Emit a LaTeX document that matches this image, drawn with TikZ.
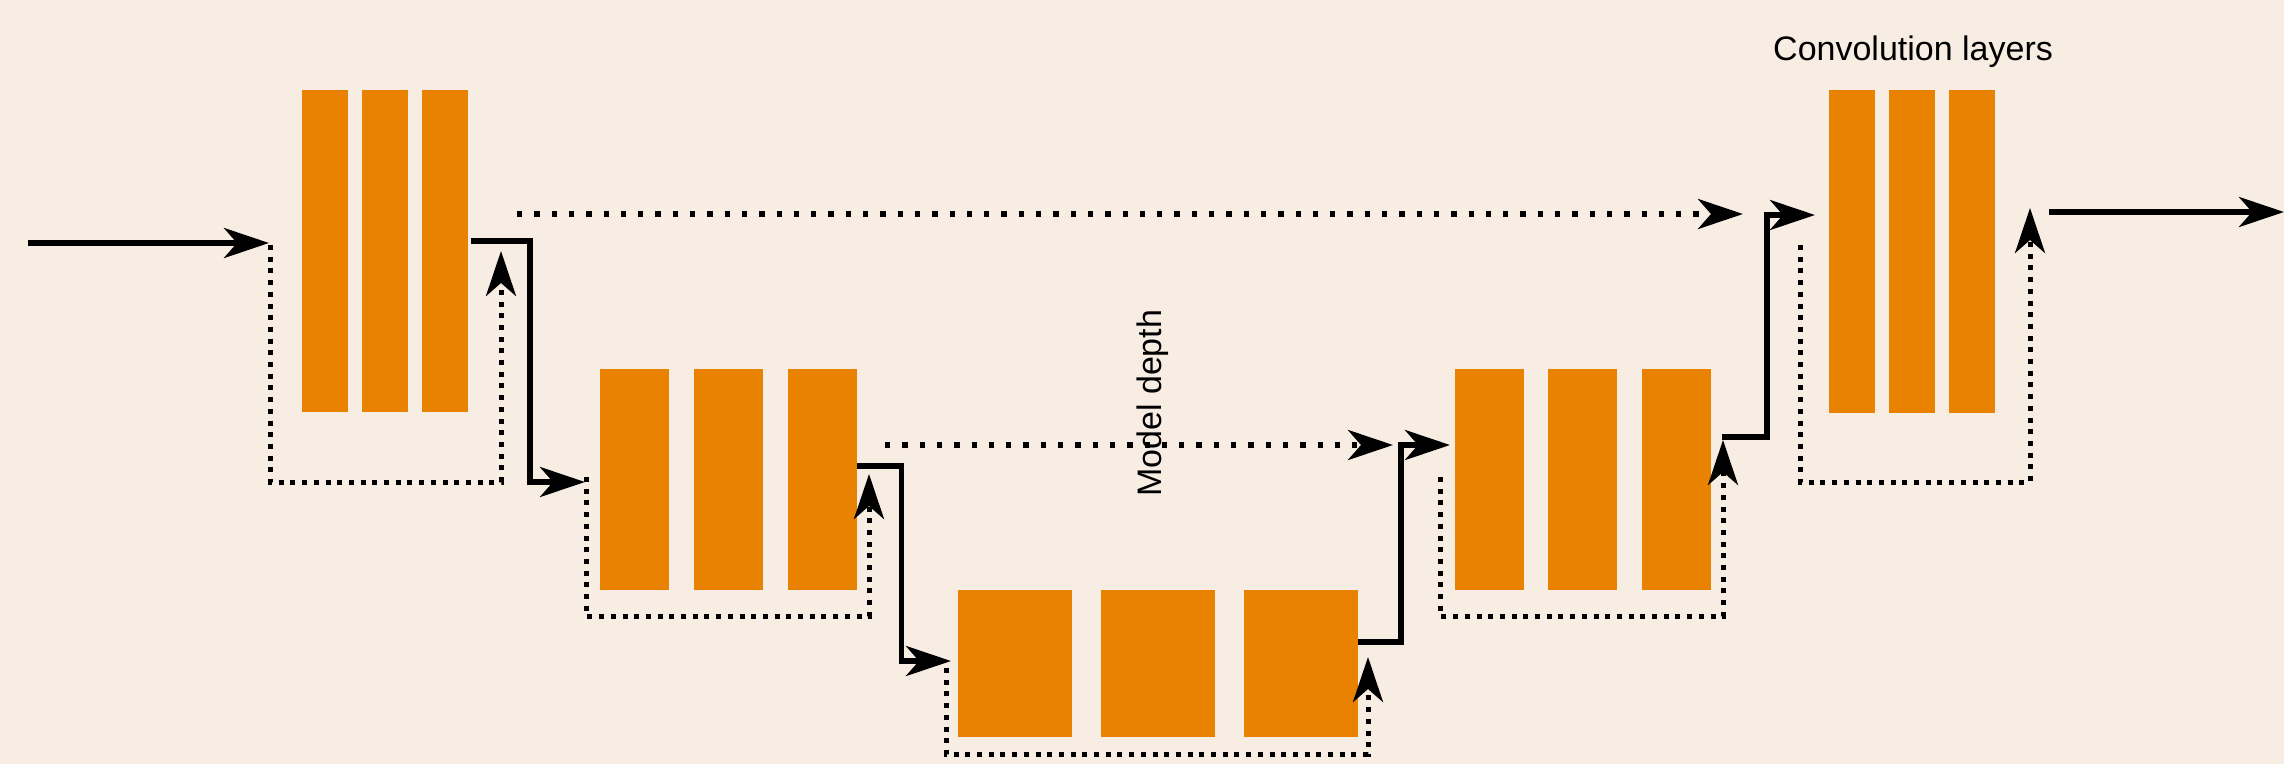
\documentclass[tikz,border=0pt]{standalone}
\usepackage{fontspec}
\setmainfont{Liberation Sans}
\usetikzlibrary{arrows.meta}
\definecolor{bgbeige}{RGB}{247,237,227}
\definecolor{barorange}{RGB}{232,130,0}
\tikzset{
  bar/.style 2 args={fill=barorange, draw=none, inner sep=0pt, outer sep=0pt, anchor=north west, minimum width=#1pt, minimum height=#2pt},
  conn/.style={line width=5.5pt, -{Stealth[length=45pt, width=30pt, inset=13pt]}},
  loopconn/.style={conn, line width=5pt, dash pattern=on 5pt off 6.7pt},
  skipconn/.style={conn, line width=5.3pt, dash pattern=on 5.3pt off 12pt},
  lbl/.style={font=\fontsize{34}{40}\selectfont, inner sep=0pt},
}
\begin{document}
\begin{tikzpicture}[x=1pt, y=-1pt]
\useasboundingbox (0,0) rectangle (2284,764);
\fill[bgbeige] (0,0) rectangle (2284,764);

% block 1
\node[bar={46}{322}] (b1a) at (302,90) {};
\node[bar={46}{322}] (b1b) at (362,90) {};
\node[bar={46}{322}] (b1c) at (422,90) {};
% block 2
\node[bar={69}{221}] (b2a) at (600,369) {};
\node[bar={69}{221}] (b2b) at (694,369) {};
\node[bar={69}{221}] (b2c) at (788,369) {};
% block 3
\node[bar={114}{147}] (b3a) at (958,590) {};
\node[bar={114}{147}] (b3b) at (1101,590) {};
\node[bar={114}{147}] (b3c) at (1244,590) {};
% block 4
\node[bar={69}{221}] (b4a) at (1455,369) {};
\node[bar={69}{221}] (b4b) at (1548,369) {};
\node[bar={69}{221}] (b4c) at (1642,369) {};
% block 5
\node[bar={46}{323}] (b5a) at (1829,90) {};
\node[bar={46}{323}] (b5b) at (1889,90) {};
\node[bar={46}{323}] (b5c) at (1949,90) {};

% labels
\node[lbl, anchor=base west] (conv) at (1773,60) {Convolution layers};
\node[lbl, anchor=base west, rotate=90] (depth) at (1161,497) {Model depth};

% coordinates
\coordinate (inS) at (28,243);
\coordinate (b1in) at (269,243);
\coordinate (l1s) at (270,245);
\coordinate (l1e) at (501,251);
\coordinate (b1out) at (471,241);
\coordinate (b2in) at (585,482);
\coordinate (s1s) at (517,214);
\coordinate (s1e) at (1743,214);
\coordinate (l2s) at (586,477);
\coordinate (l2e) at (869,474);
\coordinate (b2out) at (857,466);
\coordinate (b3in) at (951,661);
\coordinate (s2s) at (885,445);
\coordinate (s2e) at (1393,445);
\coordinate (l3s) at (946,668);
\coordinate (l3e) at (1368,657);
\coordinate (b3out) at (1358,642);
\coordinate (b4in) at (1450,445);
\coordinate (l4s) at (1440,477);
\coordinate (l4e) at (1723,440);
\coordinate (b4out) at (1722,437);
\coordinate (b5in) at (1815,215);
\coordinate (l5s) at (1800,245);
\coordinate (l5e) at (2030,208);
\coordinate (outS) at (2049,212);
\coordinate (outE) at (2284,212);

% connectors
\draw[conn] (inS) -- (b1in);
\draw[loopconn] (l1s) -- (270,482) -- (501,482) -- (l1e);
\draw[conn] (b1out) -- (530,241) -- (530,482) -- (b2in);
\draw[skipconn] (s1s) -- (s1e);
\draw[loopconn] (l2s) -- (586,616) -- (869,616) -- (l2e);
\draw[conn] (b2out) -- (901.5,466) -- (901.5,661) -- (b3in);
\draw[skipconn] (s2s) -- (s2e);
\draw[loopconn] (l3s) -- (946,754) -- (1368,754) -- (l3e);
\draw[conn] (b3out) -- (1401,642) -- (1401,445) -- (b4in);
\draw[loopconn] (l4s) -- (1440,616) -- (1723,616) -- (l4e);
\draw[conn] (b4out) -- (1767,437) -- (1767,215) -- (b5in);
\draw[loopconn] (l5s) -- (1800,482) -- (2030,482) -- (l5e);
\draw[conn] (outS) -- (outE);
\end{tikzpicture}
\end{document}
